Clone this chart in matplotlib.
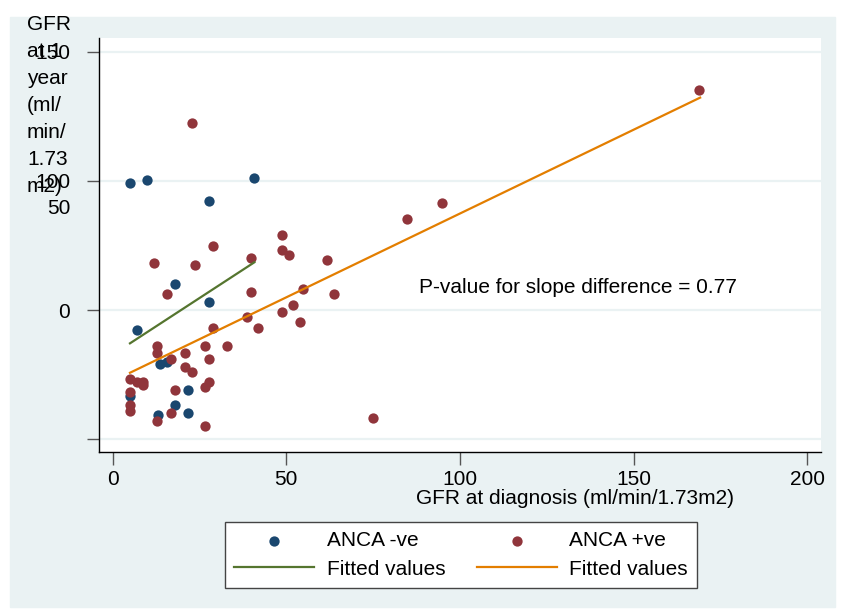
import matplotlib.pyplot as plt
from matplotlib.patches import Rectangle

plt.rcParams['font.family'] = ['Liberation Sans', 'DejaVu Sans']

# ANCA negative group (GFR at diagnosis, GFR at 1 year)
neg_x = [5.0, 9.9, 40.8, 27.7, 17.9, 27.7, 6.9, 13.6, 15.7, 5.0, 21.8, 17.9, 13.0, 21.8]
neg_y = [99.2, 100.3, 101.2, 92.2, 60.2, 53.1, 42.1, 29.1, 30.0, 16.7, 19.1, 13.1, 9.2, 10.2]

# ANCA positive group
pos_x = [22.9, 48.8, 28.8, 39.8, 48.8, 50.9, 11.9, 23.8, 15.7, 39.8, 51.8, 48.8, 53.9,
         38.8, 41.8, 28.8, 12.9, 12.9, 26.7, 32.8, 20.8, 16.7, 27.7, 20.8, 22.9,
         5.0, 6.9, 8.8, 8.8, 5.0, 17.9, 27.7, 26.7, 5.0, 5.0, 12.9, 16.7, 26.7,
         94.7, 84.7, 61.8, 54.9, 63.8, 74.9, 168.8]
pos_y = [122.4, 79.2, 75.0, 70.2, 73.3, 71.2, 68.1, 67.3, 56.3, 57.1, 52.1, 49.1, 45.2,
         47.2, 42.9, 42.9, 36.0, 33.2, 36.0, 36.0, 33.2, 31.1, 31.1, 28.0, 26.1,
         23.1, 22.2, 22.2, 20.9, 18.2, 19.1, 22.2, 20.3, 13.1, 11.0, 7.1, 10.2, 5.2,
         91.3, 85.3, 69.2, 58.3, 56.2, 8.0, 135.3]

# fitted lines (end points as read)
fit_neg_x = [5.0, 40.8]
fit_neg_y = [37.1, 68.5]
fit_pos_x = [5.0, 169.1]
fit_pos_y = [25.7, 132.3]

xticks = [0, 50, 100, 150, 200]
yticks = [0, 50, 100, 150]
ytick_labels = ['', '0', '100', '150']
ytitle_lines = ['GFR', 'at 1', 'year', '(ml/', 'min/', '1.73', 'm2)']

bg = '#eaf2f3'
navy = '#1a476f'
maroon = '#90353b'
green = '#55752f'
orange = '#e37e00'
fs = 15

W, H = 841, 609
fig = plt.figure(figsize=(W / 100, H / 100), dpi=100)
fig.patch.set_facecolor('white')
fig.patches.append(Rectangle((10 / W, 1 - 607 / H), 825 / W, 590 / H,
                             transform=fig.transFigure, color=bg, zorder=-1))

ax = fig.add_axes([99.2 / W, 1 - 452 / H, (820.7 - 99.2) / W, (452 - 38) / H])
ax.set_facecolor('white')

ax.scatter(neg_x, neg_y, s=55, color=navy, label='ANCA -ve', zorder=3, linewidths=0)
ax.plot(fit_neg_x, fit_neg_y, color=green, lw=1.6, label='Fitted values', zorder=4)
ax.scatter(pos_x, pos_y, s=55, color=maroon, label='ANCA +ve', zorder=3, linewidths=0)
ax.plot(fit_pos_x, fit_pos_y, color=orange, lw=1.6, label='Fitted values', zorder=4)

ax.set_xlim(-3.86, 203.8)
ax.set_ylim(-5.0, 155.4)
ax.set_xticks(xticks)
ax.set_yticks(yticks)
ax.set_yticklabels(ytick_labels)
ax.grid(axis='y', color=bg, lw=1.6)
ax.set_axisbelow(True)
for s in ['top', 'right']:
    ax.spines[s].set_visible(False)
for s in ['left', 'bottom']:
    ax.spines[s].set_color('black')
    ax.spines[s].set_linewidth(1.0)
ax.tick_params(axis='both', length=9, width=1, color='#555555', labelsize=fs)
ax.tick_params(axis='y', pad=12)
ax.tick_params(axis='x', pad=4)

ax.set_xlabel('GFR at diagnosis (ml/min/1.73m2)', fontsize=fs)
ax.xaxis.set_label_coords(0.66, -0.09)

ax.text(88.1, 58.9, 'P-value for slope difference = 0.77', fontsize=fs, va='center')

# y axis title, wrapped as in the original
for i, line in enumerate(ytitle_lines):
    fig.text(27 / W, 1 - (30 + 27 * i) / H, line, fontsize=fs,
             va='baseline', ha='left')
fig.text(59 / W, 1 - 209 / H, '50', fontsize=fs, va='center', ha='center')

leg = fig.legend(loc='center', bbox_to_anchor=(461 / W, 1 - 555 / H), ncol=2,
                 fontsize=fs, frameon=True, fancybox=False, handlelength=3.85,
                 handletextpad=0.6, columnspacing=1.5, borderpad=0.45,
                 labelspacing=0.45, markerscale=1.0, framealpha=1.0)
leg.get_frame().set_facecolor('white')
leg.get_frame().set_edgecolor('#444444')
leg.get_frame().set_linewidth(1.0)

fig.savefig('out.png', dpi=100, facecolor=fig.get_facecolor())
